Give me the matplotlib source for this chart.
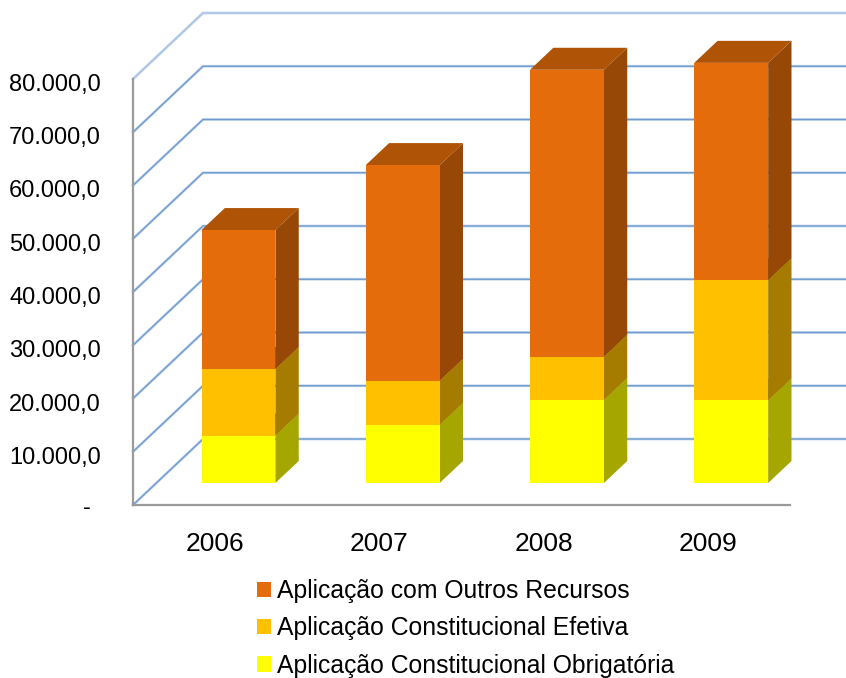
import matplotlib
matplotlib.use('Agg')
import numpy as np
import matplotlib.pyplot as plt
from matplotlib.patches import Polygon
from matplotlib.transforms import ScaledTranslation

plt.rcParams['font.family'] = ['Liberation Sans', 'DejaVu Sans']

years = ['2006', '2007', '2008', '2009']
obrigatoria = [8900, 10900, 15600, 15500]
efetiva = [12500, 8300, 8100, 22600]
outros = [26100, 40500, 53900, 40800]
y_ticks = [0, 10000, 20000, 30000, 40000, 50000, 60000, 70000, 80000]
y_labels = ['-  ', '10.000,0', '20.000,0', '30.000,0', '40.000,0',
            '50.000,0', '60.000,0', '70.000,0', '80.000,0']

W, H = 846, 678
# front plane of the oblique box, in pixels
LEFT, RIGHT, BOTTOM, TOP = 133, 790, 505, 79
# full depth of the box in data units
DEPTH_X = 70 / ((RIGHT - LEFT) / 4)
DEPTH_Y = 66 / ((BOTTOM - TOP) / 80000)
BAR_WIDTH = 0.45

fig = plt.figure(figsize=(W / 100, H / 100), dpi=100)
ax = fig.add_axes([LEFT / W, 1 - BOTTOM / H, (RIGHT - LEFT) / W, (BOTTOM - TOP) / H])
ax.set_xlim(0, 4)
ax.set_ylim(0, 80000)

# walls: gridlines along the back and diagonals on the left side
for tick in y_ticks:
    soft = tick == 80000
    col = '#A9C4E4' if soft else '#6F9BD1'
    xs = [0, DEPTH_X, 4 + DEPTH_X]
    ys = [tick, tick + DEPTH_Y, tick + DEPTH_Y]
    ax.plot(xs, ys, color='#C5D7EC', lw=2.0, clip_on=False, zorder=1, solid_joinstyle='miter')
    ax.plot(xs, ys, color=col, lw=1.0, clip_on=False, zorder=1.1, solid_joinstyle='miter')


def draw_stack(xc, base, height, top, side):
    # top and side faces of one box; the front face comes from bar()
    x0 = xc + DEPTH_X / 3 - BAR_WIDTH / 2
    x1 = x0 + BAR_WIDTH
    y0 = base + DEPTH_Y / 3
    y1 = y0 + height
    dx, dy = DEPTH_X / 3, DEPTH_Y / 3
    ax.add_patch(Polygon([(x1, y0), (x1 + dx, y0 + dy), (x1 + dx, y1 + dy), (x1, y1)],
                         facecolor=side, edgecolor='none', clip_on=False, zorder=3))
    ax.add_patch(Polygon([(x0, y1), (x0 + dx, y1 + dy), (x1 + dx, y1 + dy), (x1, y1)],
                         facecolor=top, edgecolor='none', clip_on=False, zorder=3))


series = [
    (obrigatoria, '#FFFF00', '#A6A600', 'Aplicação Constitucional Obrigatória'),
    (efetiva, '#FFC000', '#A67C00', 'Aplicação Constitucional Efetiva'),
    (outros, '#E46C0A', '#974806', 'Aplicação com Outros Recursos'),
]
top_colors = {'#E46C0A': '#AF5307', '#FFC000': '#A67C00', '#FFFF00': '#A6A600'}

positions = np.arange(len(years)) + 0.5
bottoms = np.zeros(len(years))
handles = []
for values, front, side, label in series:
    vals = np.array(values, dtype=float)
    for xc, b, v in zip(positions, bottoms, vals):
        draw_stack(xc, b, v, top_colors[front], side)
    bars = ax.bar(positions + DEPTH_X / 3, vals, BAR_WIDTH, bottom=bottoms + DEPTH_Y / 3,
                  color=front, clip_on=False, zorder=4, label=label)
    handles.append(bars)
    bottoms = bottoms + vals

ax.set_xticks(positions)
ax.set_xticklabels(years, fontsize=19)
ax.set_yticks(y_ticks)
ax.set_yticklabels(y_labels, fontsize=17)
ax.tick_params(axis='both', length=0)
ax.tick_params(axis='y', pad=23)
ax.tick_params(axis='x', pad=19.7)
ax.patch.set_visible(False)

# value labels sit a little under their tick level, the dash only moves sideways
nudge = ScaledTranslation(0, -0.035, fig.dpi_scale_trans)
dash_nudge = ScaledTranslation(0.03, 0, fig.dpi_scale_trans)
tick_labels = ax.get_yticklabels()
tick_labels[0].set_transform(tick_labels[0].get_transform() + dash_nudge)
for lab in tick_labels[1:]:
    lab.set_transform(lab.get_transform() + nudge)

for name in ['top', 'right']:
    ax.spines[name].set_visible(False)
for name in ['left', 'bottom']:
    ax.spines[name].set_color('#9A9A9A')
    ax.spines[name].set_linewidth(1.6)
    ax.spines[name].set_zorder(2)

# legend reads top down, last series first
ax.legend(handles[::-1], [h.get_label() for h in handles[::-1]],
          loc='upper left', bbox_to_anchor=(257 / W, 1 - 579 / H), bbox_transform=fig.transFigure,
          frameon=False, fontsize=17.8, handlelength=0.57, handleheight=0.57,
          handletextpad=0.24, labelspacing=0.54, borderpad=0, borderaxespad=0)

fig.savefig('out.png', dpi=100)
